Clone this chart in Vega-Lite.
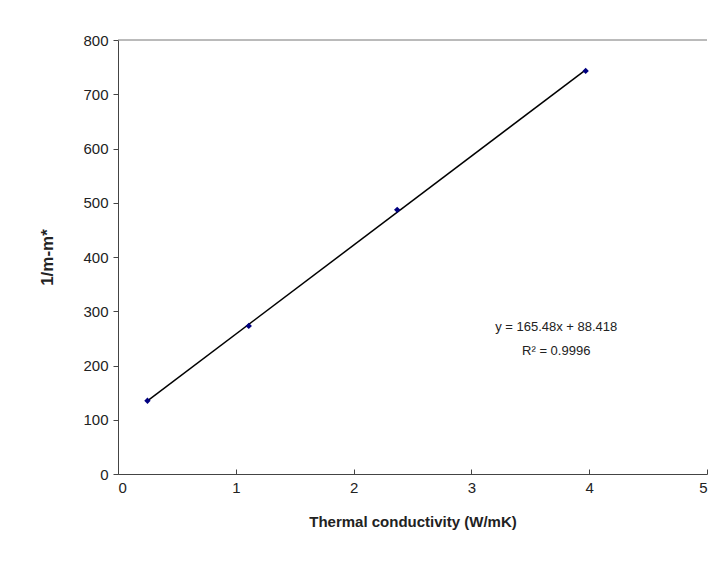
{
  "$schema": "https://vega.github.io/schema/vega-lite/v6.json",
  "width": 589,
  "height": 434,
  "autosize": {"type": "none"},
  "padding": {"left": 118, "top": 40, "right": 15, "bottom": 87},
  "background": "white",
  "config": {
    "view": {"stroke": null},
    "font": "Liberation Sans",
    "axis": {"grid": false, "domainColor": "#444444", "tickColor": "#444444", "labelColor": "#222222", "labelFont": "Liberation Sans", "labelFontSize": 15, "titleFont": "Liberation Sans", "titleFontWeight": "bold", "titleColor": "#222222"}
  },
  "datasets": {
    "pts": [
      {"k": 0.25, "m": 135},
      {"k": 1.11, "m": 273},
      {"k": 2.37, "m": 487},
      {"k": 3.97, "m": 743}
    ],
    "top": [{"y": 800}],
    "eq": [
      {"x": 3.72, "y": 271, "t": "y = 165.48x + 88.418"},
      {"x": 3.72, "y": 227, "t": "R² = 0.9996"}
    ]
  },
  "layer": [
    {
      "data": {"name": "top"},
      "mark": {"type": "rule", "color": "#777777", "strokeWidth": 1},
      "encoding": {"y": {"field": "y", "type": "quantitative", "scale": {"domain": [0, 800]}}}
    },
    {
      "data": {"name": "pts"},
      "transform": [{"regression": "m", "on": "k"}],
      "mark": {"type": "line", "color": "#000000", "strokeWidth": 1.5},
      "encoding": {
        "x": {"field": "k", "type": "quantitative"},
        "y": {"field": "m", "type": "quantitative"}
      }
    },
    {
      "data": {"name": "pts"},
      "mark": {"type": "point", "shape": "diamond", "filled": true, "color": "#000080", "size": 40, "opacity": 1},
      "encoding": {
        "x": {"field": "k", "type": "quantitative", "scale": {"domain": [0, 5]},
          "axis": {"title": "Thermal conductivity (W/mK)", "titleFontSize": 15, "values": [0, 1, 2, 3, 4, 5], "format": "d", "tickSize": -5, "labelPadding": 11, "titleY": 47, "titleBaseline": "middle"}},
        "y": {"field": "m", "type": "quantitative", "scale": {"domain": [0, 800]},
          "axis": {"title": "1/m-m*", "titleFontSize": 17, "values": [0, 100, 200, 300, 400, 500, 600, 700, 800], "tickSize": 5, "labelPadding": 5, "titleX": -71, "titleY": 217, "titleAngle": -90, "titleBaseline": "middle", "titleAlign": "center"}}
      }
    },
    {
      "data": {"name": "eq"},
      "mark": {"type": "text", "font": "Liberation Sans", "fontSize": 13, "color": "#222222", "align": "center", "baseline": "middle"},
      "encoding": {
        "x": {"field": "x", "type": "quantitative"},
        "y": {"field": "y", "type": "quantitative"},
        "text": {"field": "t"}
      }
    }
  ]
}
